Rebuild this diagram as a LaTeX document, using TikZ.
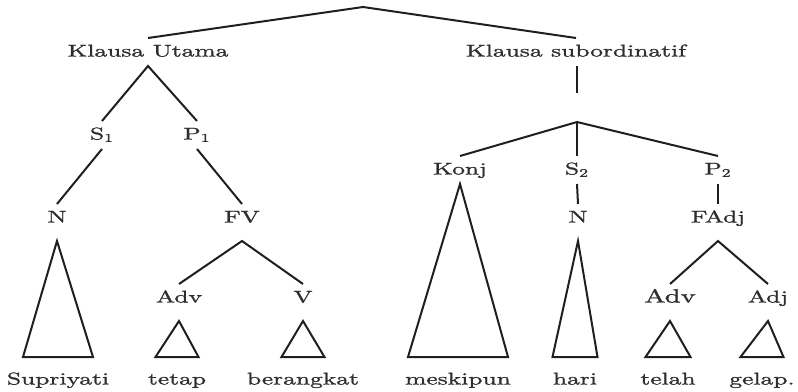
\documentclass[tikz,border=0pt]{standalone}
\usepackage{fontspec}
\setmainfont{lmroman10-regular.otf}[FakeStretch=1.5,FakeBold=1.3]
\usetikzlibrary{calc}

% draw a triangle ("roof") from a category node down to its word
\newcommand{\treeroof}[4]{%
  \draw ($(#1.south)+(0,#3)$) -- ($(#2.north)+(-#4,-9)$) -- ($(#2.north)+(#4,-9)$) -- cycle;}

\begin{document}
\begin{tikzpicture}[x=0.5pt,y=-0.5pt,
  line width=1pt, draw=black!88,
  lbl/.style={font=\fontsize{8.5}{10}\selectfont, text=black!82,
    text height=6pt, text depth=1.5pt, inner xsep=2pt, inner ysep=2.75pt},
  biglbl/.style={lbl, font=\fontsize{9.5}{11}\selectfont}]
\useasboundingbox (0,0) rectangle (798,391);

% clause level
\node[lbl] (KU) at (148,52) {Klausa Utama};
\node[lbl] (KS) at (576,52) {Klausa subordinatif};

% main clause
\node[lbl] (S1) at (102,135) {S\textsubscript{1}};
\node[lbl] (P1) at (197,135) {P\textsubscript{1}};
\node[lbl] (N1) at (57,218) {N};
\node[lbl] (FV) at (242,218) {FV};
\node[lbl] (Adv1) at (179,298) {Adv};
\node[lbl] (V) at (303,298) {V};

% subordinate clause
\node[lbl] (Konj) at (460,170) {Konj};
\node[lbl] (S2) at (577,170) {S\textsubscript{2}};
\node[lbl] (P2) at (718,170) {P\textsubscript{2}};
\node[lbl] (N2) at (578,218) {N};
\node[lbl] (FAdj) at (718,218) {FAdj};
\node[biglbl] (Adv2) at (670,298) {Adv};
\node[lbl] (Adj) at (768,298) {Adj};

% words
\node[lbl] (w1) at (58,380) {Supriyati};
\node[lbl] (w2) at (177,380) {tetap};
\node[lbl] (w3) at (303,380) {berangkat};
\node[lbl] (w4) at (458,380) {meskipun};
\node[lbl] (w5) at (575,380) {hari};
\node[lbl] (w6) at (668,380) {telah};
\node[lbl] (w7) at (762,380) {gelap.};

% branches
\coordinate (top) at (363,7);
\draw (KU.north) -- (top) -- (KS.north);
\draw (S1.north) -- (KU.south) -- (P1.north);
\draw (S1.south) -- (N1.north);
\draw (P1.south) -- (FV.north);
\draw (Adv1.north) -- ([yshift=-4.5pt]FV.south) -- (V.north);

\coordinate (kstem) at ($(KS.south)+(1,27)$);
\draw ($(KS.south)+(1,0)$) -- (kstem);
\coordinate (fan) at (577,122);
\draw (Konj.north) -- (fan) -- (P2.north);
\draw (fan) -- (S2.north);
\draw (S2.south) -- (N2.north);
\draw (P2.south) -- (FAdj.north);
\draw (Adv2.north) -- ([yshift=-4.5pt]FAdj.south) -- (Adj.north);

% roofs
\treeroof{N1}{w1}{9}{35}
\treeroof{Adv1}{w2}{9}{21.5}
\treeroof{V}{w3}{9}{21.5}
\treeroof{Konj}{w4}{0}{50}
\treeroof{N2}{w5}{9}{22.5}
\treeroof{Adv2}{w6}{9}{22.5}
\treeroof{Adj}{w7}{9}{21.5}
\end{tikzpicture}
\end{document}
